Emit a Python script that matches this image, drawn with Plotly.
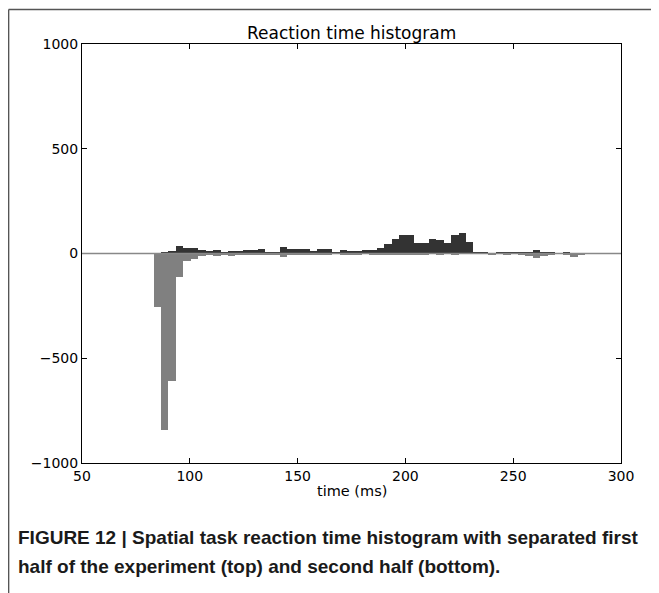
import plotly.graph_objects as go

# ---- data -------------------------------------------------------------
bin_start = 83.2      # ms, left edge of first bin
bin_width = 3.45      # ms
first_half = [0, 5, 14, 35, 25, 25, 16, 11, 17, 9,
              10, 14, 15, 15, 21, 6, 4, 29, 22, 21,
              20, 14, 22, 21, 8, 15, 11, 11, 17, 15,
              24, 43, 67, 89, 87, 48, 51, 70, 64, 51,
              88, 100, 56, 3, 7, 2, 4, 6, 7, 6,
              8, 15, 7, 3, 2, 3, 2, 1]
second_half = [257, 841, 607, 113, 35, 25, 10, 4, 10, 6,
               10, 5, 7, 6, 4, 3, 4, 15, 6, 4,
               3, 6, 5, 3, 2, 3, 4, 3, 2, 3,
               4, 3, 3, 5, 4, 3, 3, 2, 3, 2,
               3, 2, 2, 2, 2, 4, 2, 6, 2, 3,
               10, 20, 10, 5, 2, 5, 18, 5]
x_ticks = [50, 100, 150, 200, 250, 300]
y_ticks = [-1000, -500, 0, 500, 1000]

centers = [bin_start + bin_width * (i + 0.5) for i in range(len(first_half))]
neg_second = [-v for v in second_half]

# page body has an 8px margin; the figure is sized so the page fills 659x593
OFF = 8
W, H = 659 - OFF, 593 - OFF
L, R, T, B = 74, 38, 36, 130
PW, PH = W - L - R, H - T - B


def px(xp):
    return (xp - OFF - L) / PW


def py(yp):
    return 1 - (yp - OFF - T) / PH


fig = go.Figure()
fig.add_trace(go.Bar(x=centers, y=first_half, width=bin_width,
                     marker=dict(color="#333333", line=dict(width=0)),
                     name="first half"))
fig.add_trace(go.Bar(x=centers, y=neg_second, width=bin_width,
                     marker=dict(color="#808080", line=dict(width=0)),
                     name="second half"))

font = "DejaVu Sans"
fig.update_layout(
    width=W, height=H,
    margin=dict(l=L, r=R, t=T, b=B),
    paper_bgcolor="white", plot_bgcolor="white",
    showlegend=False, barmode="overlay", bargap=0,
    font=dict(family=font, size=14, color="black"),
    xaxis=dict(range=[50, 300], tickvals=x_ticks, ticks="inside", ticklen=5,
               tickcolor="black", showline=True, linecolor="black", linewidth=1,
               mirror="allticks", showgrid=False, zeroline=False,
               tickfont=dict(family=font, size=14)),
    yaxis=dict(range=[-1000, 1000], tickvals=y_ticks, ticks="inside", ticklen=5,
               tickcolor="black", showline=True, linecolor="black", linewidth=1,
               mirror="allticks", showgrid=False, zeroline=False,
               tickfont=dict(family=font, size=14)),
)

# zero line
fig.add_shape(type="line", xref="x", yref="y", x0=50, x1=300, y0=0, y1=0,
              line=dict(color="#888888", width=1.5), layer="above")

# frame of the figure box
fig.add_shape(type="line", xref="paper", yref="paper",
              x0=px(8.6), x1=px(700), y0=py(9.4), y1=py(9.4),
              line=dict(color="#555555", width=1.5))
fig.add_shape(type="line", xref="paper", yref="paper",
              x0=px(8.6), x1=px(8.6), y0=py(9.4), y1=py(700),
              line=dict(color="#555555", width=1.5))

# title
fig.add_annotation(text="Reaction time histogram", xref="paper", yref="paper",
                   x=0.5, y=py(33), xanchor="center", yanchor="middle",
                   showarrow=False, font=dict(family=font, size=17, color="black"))
# x axis title
fig.add_annotation(text="time (ms)", xref="paper", yref="paper",
                   x=0.5, y=py(491), xanchor="center", yanchor="middle",
                   showarrow=False, font=dict(family=font, size=14.5, color="black"))
# caption (two lines)
cap_font = dict(family="Liberation Sans Narrow, Liberation Sans, Arial", size=19, color="#1a1a1a")
fig.add_annotation(
    text="<b>FIGURE 12 | Spatial task reaction time histogram with separated first</b>",
    xref="paper", yref="paper", x=px(16), y=py(537), xanchor="left", yanchor="middle",
    align="left", showarrow=False, font=cap_font)
fig.add_annotation(
    text="<b>half of the experiment (top) and second half (bottom).</b>",
    xref="paper", yref="paper", x=px(16), y=py(566), xanchor="left", yanchor="middle",
    align="left", showarrow=False, font=cap_font)

fig.write_html("out.html")
